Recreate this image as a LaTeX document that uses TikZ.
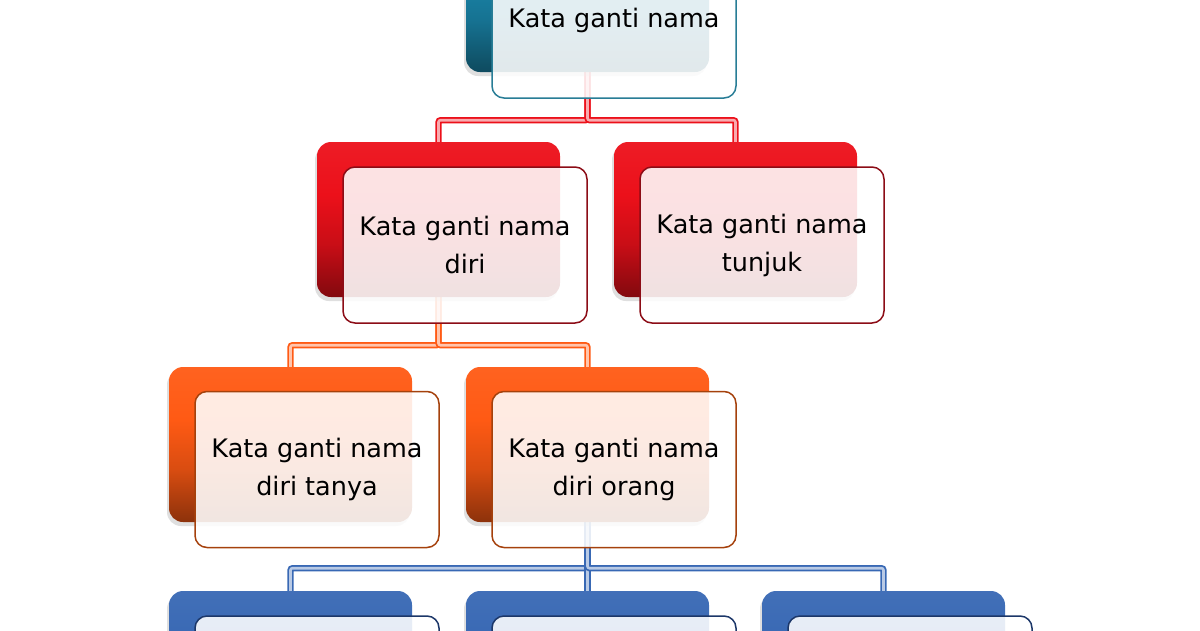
\documentclass[tikz,border=0pt]{standalone}
\usepackage{fontspec}
\setmainfont{DejaVu Sans}
\usetikzlibrary{shadows,backgrounds}
\definecolor{tealc}{RGB}{26,135,172}
\definecolor{tealline}{RGB}{40,125,150}
\definecolor{redc}{RGB}{236,16,26}
\definecolor{redline}{RGB}{140,12,22}
\definecolor{orangec}{RGB}{255,90,20}
\definecolor{orangeline}{RGB}{165,65,12}
\definecolor{bluec}{RGB}{56,104,180}
\definecolor{blueline}{RGB}{28,55,105}
\colorlet{boxc}{redc}
\pgfdeclareverticalshading[boxc]{backshade}{100bp}{color(0bp)=(boxc!55!black); color(25bp)=(boxc!55!black); color(42bp)=(boxc!85!black); color(58bp)=(boxc); color(75bp)=(boxc!95!white); color(100bp)=(boxc!95!white)}
\begin{document}
\begin{tikzpicture}[x=1pt, y=-1pt,
    back/.style={rounded corners=14pt, minimum width=243pt, minimum height=155pt, /utils/exec={\colorlet{boxc}{#1}}, shading=backshade, draw=none, drop shadow={shadow xshift=-2pt, shadow yshift=-4pt, opacity=0.25}},
    front/.style={rounded corners=12pt, minimum width=244pt, minimum height=156pt, draw=#1, line width=1.5pt, fill=white, fill opacity=0.88, text opacity=1, align=center, font=\fontsize{25.5}{38}\selectfont},
    link/.style={draw=#1, line width=1.8pt, double=#1!35!white, double distance=2.6pt, rounded corners=2pt}
]
    \useasboundingbox (0,0) rectangle (1200,630);

    % level 1
    \node[back=tealc] (namab) at (587.5,-5.5) {};
    \node[front=tealline] (nama) at (614,20) {Kata ganti nama};

    % level 2
    \node[back=redc] (dirib) at (438.5,219.5) {};
    \node[front=redline] (diri) at (465,245) {Kata ganti nama\\diri};
    \node[back=redc] (tunjukb) at (735.5,219.5) {};
    \node[front=redline] (tunjuk) at (762,245) {Kata ganti nama\\tunjuk};

    % level 3
    \node[back=orangec] (tanyab) at (290.5,444.5) {};
    \node[front=orangeline] (tanya) at (317,469.5) {Kata ganti nama\\diri tanya};
    \node[back=orangec] (orangb) at (587.5,444.5) {};
    \node[front=orangeline] (orang) at (614,469.5) {Kata ganti nama\\diri orang};

    % level 4
    \node[back=bluec] (pertamab) at (290.5,668.5) {};
    \node[front=blueline] (pertama) at (317,694) {};
    \node[back=bluec] (keduab) at (587.5,668.5) {};
    \node[front=blueline] (kedua) at (614,694) {};
    \node[back=bluec] (ketigab) at (883.5,668.5) {};
    \node[front=blueline] (ketiga) at (910,694) {};

    \begin{pgfonlayer}{background}
        \draw[link=redc] (namab.south) -- ++(0,48) -| (dirib.north);
        \draw[link=redc] (namab.south) -- ++(0,48) -| (tunjukb.north);
        \draw[link=orangec] (dirib.south) -- ++(0,48) -| (tanyab.north);
        \draw[link=orangec] (dirib.south) -- ++(0,48) -| (orangb.north);
        \draw[link=bluec] (orangb.south) -- ++(0,46) -| (pertamab.north);
        \draw[link=bluec] (orangb.south) -- ++(0,46) -| (keduab.north);
        \draw[link=bluec] (orangb.south) -- ++(0,46) -| (ketigab.north);
    \end{pgfonlayer}
\end{tikzpicture}
\end{document}
